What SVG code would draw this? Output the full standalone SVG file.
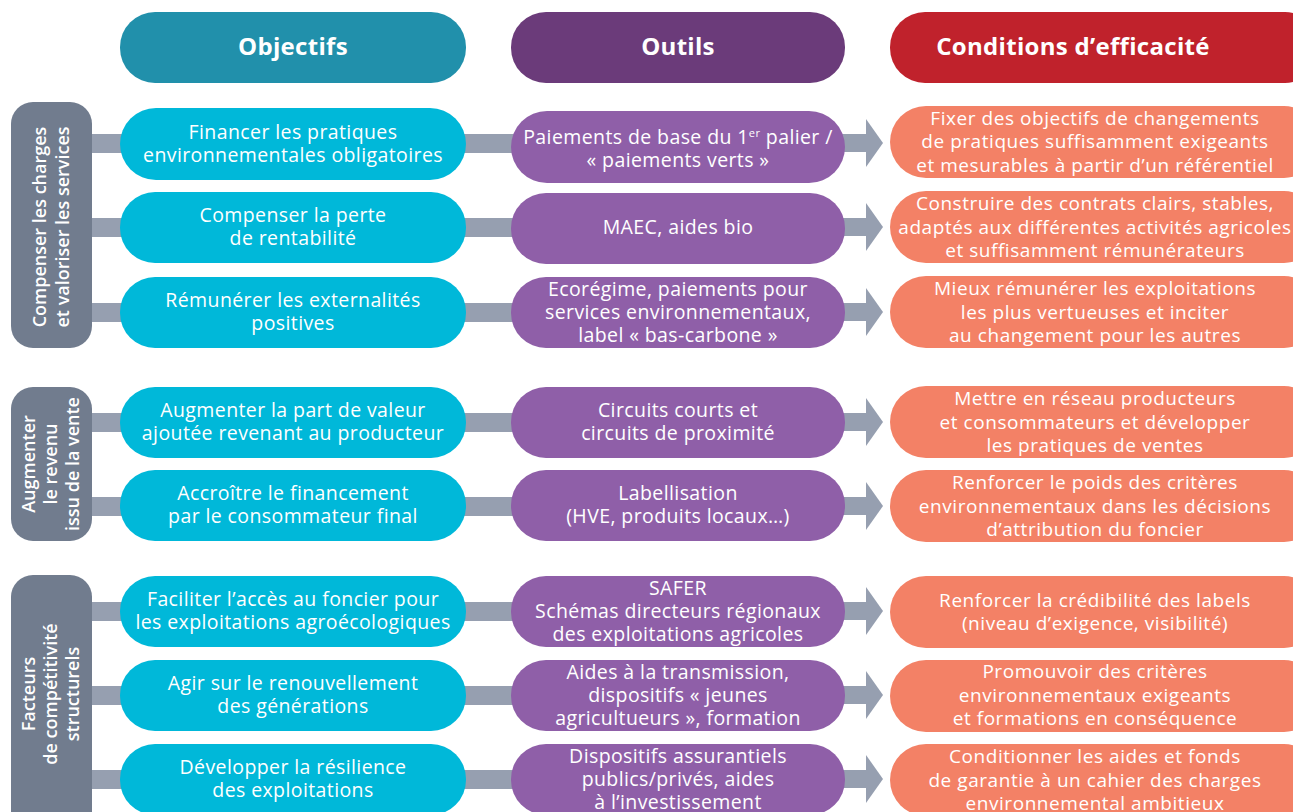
<svg xmlns="http://www.w3.org/2000/svg" width="1293" height="812" viewBox="0 0 1293 812">
<style>
text{font-family:"Open Sans","Liberation Sans",sans-serif;fill:#fff;text-anchor:middle}
.h{font-size:24px;font-weight:700;letter-spacing:0.3px}
.t{font-size:19.5px;letter-spacing:0.4px}
.c{font-size:19px;letter-spacing:0.55px}
.g{font-size:18px;font-weight:600}
.obj{fill:#00b8d9}
.out{fill:#8f5fa8}
.cond{fill:#f38166}
.grp{fill:#717c8e}
.bar{fill:#969fb0}
</style>
<defs>
<g id="arr"><rect x="840" y="-9" width="28" height="18"/><polygon points="866,-24 883,0 866,24"/></g>
</defs>
<rect width="1293" height="812" fill="#fff"/>
<g id="connectors" class="bar">
<rect x="88" y="134" width="36" height="19"/><rect x="88" y="218" width="36" height="19"/><rect x="88" y="303" width="36" height="19"/>
<rect x="88" y="413" width="36" height="19"/><rect x="88" y="497" width="36" height="19"/>
<rect x="88" y="602" width="36" height="19"/><rect x="88" y="686" width="36" height="19"/><rect x="88" y="770" width="36" height="19"/>
<rect x="460" y="134" width="56" height="19"/><rect x="460" y="218" width="56" height="19"/><rect x="460" y="303" width="56" height="19"/>
<rect x="460" y="413" width="56" height="19"/><rect x="460" y="497" width="56" height="19"/>
<rect x="460" y="602" width="56" height="19"/><rect x="460" y="686" width="56" height="19"/><rect x="460" y="770" width="56" height="19"/>
<use href="#arr" y="143"/><use href="#arr" y="227"/><use href="#arr" y="312"/>
<use href="#arr" y="422"/><use href="#arr" y="506"/>
<use href="#arr" y="611"/><use href="#arr" y="695"/><use href="#arr" y="779"/>
</g>
<g id="header-objectifs"><rect x="120" y="12" width="346" height="71" rx="35" fill="#2190ab"/><text class="h" x="293" y="55">Objectifs</text></g>
<g id="header-outils"><rect x="511" y="12" width="334" height="71" rx="35" fill="#6b3b7a"/><text class="h" x="678" y="55">Outils</text></g>
<g id="header-conditions"><rect x="890" y="12" width="430" height="71" rx="35" fill="#c0222c"/><text class="h" x="1073" y="55">Conditions d’efficacité</text></g>

<g id="group1"><rect class="grp" x="11" y="102" width="81" height="246" rx="22"/>
<text class="g" transform="translate(51,227) rotate(-90)"><tspan x="0" y="-5">Compenser les charges</tspan><tspan x="0" y="18">et valoriser les services</tspan></text></g>
<g id="group2"><rect class="grp" x="11" y="387" width="81" height="154" rx="22"/>
<text class="g" transform="translate(51,464) rotate(-90)"><tspan x="0" y="-16">Augmenter</tspan><tspan x="0" y="6">le revenu</tspan><tspan x="0" y="28">issu de la vente</tspan></text></g>
<g id="group3"><rect class="grp" x="11" y="575" width="81" height="260" rx="22"/>
<text class="g" transform="translate(51,694) rotate(-90)"><tspan x="0" y="-16">Facteurs</tspan><tspan x="0" y="6">de compétitivité</tspan><tspan x="0" y="28">structurels</tspan></text></g>

<g id="obj1"><rect class="obj" x="120" y="108" width="346" height="72" rx="36"/><text class="t"><tspan x="293" y="139">Financer les pratiques</tspan><tspan x="293" y="162">environnementales obligatoires</tspan></text></g>
<g id="obj2"><rect class="obj" x="120" y="192" width="346" height="71" rx="35"/><text class="t"><tspan x="293" y="222">Compenser la perte</tspan><tspan x="293" y="245">de rentabilité</tspan></text></g>
<g id="obj3"><rect class="obj" x="120" y="277" width="346" height="71" rx="35"/><text class="t"><tspan x="293" y="307">Rémunérer les externalités</tspan><tspan x="293" y="330">positives</tspan></text></g>
<g id="obj4"><rect class="obj" x="120" y="387" width="346" height="71" rx="35"/><text class="t"><tspan x="293" y="417">Augmenter la part de valeur</tspan><tspan x="293" y="440">ajoutée revenant au producteur</tspan></text></g>
<g id="obj5"><rect class="obj" x="120" y="470" width="346" height="71" rx="35"/><text class="t"><tspan x="293" y="500">Accroître le financement</tspan><tspan x="293" y="523">par le consommateur final</tspan></text></g>
<g id="obj6"><rect class="obj" x="120" y="576" width="346" height="71" rx="35"/><text class="t"><tspan x="293" y="606">Faciliter l’accès au foncier pour</tspan><tspan x="293" y="629">les exploitations agroécologiques</tspan></text></g>
<g id="obj7"><rect class="obj" x="120" y="660" width="346" height="71" rx="35"/><text class="t"><tspan x="293" y="690">Agir sur le renouvellement</tspan><tspan x="293" y="713">des générations</tspan></text></g>
<g id="obj8"><rect class="obj" x="120" y="744" width="346" height="71" rx="35"/><text class="t"><tspan x="293" y="774">Développer la résilience</tspan><tspan x="293" y="797">des exploitations</tspan></text></g>

<g id="out1"><rect class="out" x="511" y="111" width="334" height="72" rx="36"/><text class="t"><tspan x="678" y="144">Paiements de base du 1<tspan font-size="11" dy="-7">er</tspan><tspan dy="7"> palier /</tspan></tspan><tspan x="678" y="167">« paiements verts »</tspan></text></g>
<g id="out2"><rect class="out" x="511" y="193" width="334" height="71" rx="35"/><text class="t" x="678" y="234">MAEC, aides bio</text></g>
<g id="out3"><rect class="out" x="511" y="277" width="334" height="71" rx="35"/><text class="t"><tspan x="678" y="296">Ecorégime, paiements pour</tspan><tspan x="678" y="319">services environnementaux,</tspan><tspan x="678" y="342">label « bas-carbone »</tspan></text></g>
<g id="out4"><rect class="out" x="511" y="387" width="334" height="71" rx="35"/><text class="t"><tspan x="678" y="417">Circuits courts et</tspan><tspan x="678" y="440">circuits de proximité</tspan></text></g>
<g id="out5"><rect class="out" x="511" y="470" width="334" height="71" rx="35"/><text class="t"><tspan x="678" y="500">Labellisation</tspan><tspan x="678" y="523">(HVE, produits locaux…)</tspan></text></g>
<g id="out6"><rect class="out" x="511" y="576" width="334" height="71" rx="35"/><text class="t"><tspan x="678" y="595">SAFER</tspan><tspan x="678" y="618">Schémas directeurs régionaux</tspan><tspan x="678" y="641">des exploitations agricoles</tspan></text></g>
<g id="out7"><rect class="out" x="511" y="660" width="334" height="71" rx="35"/><text class="t"><tspan x="678" y="679">Aides à la transmission,</tspan><tspan x="678" y="702">dispositifs « jeunes</tspan><tspan x="678" y="725">agricultueurs », formation</tspan></text></g>
<g id="out8"><rect class="out" x="511" y="744" width="334" height="71" rx="35"/><text class="t"><tspan x="678" y="763">Dispositifs assurantiels</tspan><tspan x="678" y="786">publics/privés, aides</tspan><tspan x="678" y="809">à l’investissement</tspan></text></g>

<g id="cond1"><rect class="cond" x="890" y="106" width="430" height="72" rx="36"/><text class="c"><tspan x="1095" y="125">Fixer des objectifs de changements</tspan><tspan x="1095" y="148">de pratiques suffisamment exigeants</tspan><tspan x="1095" y="172">et mesurables à partir d’un référentiel</tspan></text></g>
<g id="cond2"><rect class="cond" x="890" y="191" width="430" height="72" rx="36"/><text class="c"><tspan x="1095" y="210">Construire des contrats clairs, stables,</tspan><tspan x="1095" y="234">adaptés aux différentes activités agricoles</tspan><tspan x="1095" y="257">et suffisamment rémunérateurs</tspan></text></g>
<g id="cond3"><rect class="cond" x="890" y="276" width="430" height="72" rx="36"/><text class="c"><tspan x="1095" y="295">Mieux rémunérer les exploitations</tspan><tspan x="1095" y="319">les plus vertueuses et inciter</tspan><tspan x="1095" y="342">au changement pour les autres</tspan></text></g>
<g id="cond4"><rect class="cond" x="890" y="386" width="430" height="72" rx="36"/><text class="c"><tspan x="1095" y="405">Mettre en réseau producteurs</tspan><tspan x="1095" y="429">et consommateurs et développer</tspan><tspan x="1095" y="452">les pratiques de ventes</tspan></text></g>
<g id="cond5"><rect class="cond" x="890" y="470" width="430" height="72" rx="36"/><text class="c"><tspan x="1095" y="489">Renforcer le poids des critères</tspan><tspan x="1095" y="513">environnementaux dans les décisions</tspan><tspan x="1095" y="536">d’attribution du foncier</tspan></text></g>
<g id="cond6"><rect class="cond" x="890" y="576" width="430" height="72" rx="36"/><text class="c"><tspan x="1095" y="607">Renforcer la crédibilité des labels</tspan><tspan x="1095" y="630">(niveau d’exigence, visibilité)</tspan></text></g>
<g id="cond7"><rect class="cond" x="890" y="660" width="430" height="72" rx="36"/><text class="c"><tspan x="1095" y="678">Promouvoir des critères</tspan><tspan x="1095" y="702">environnementaux exigeants</tspan><tspan x="1095" y="725">et formations en conséquence</tspan></text></g>
<g id="cond8"><rect class="cond" x="890" y="744" width="430" height="72" rx="36"/><text class="c"><tspan x="1095" y="763">Conditionner les aides et fonds</tspan><tspan x="1095" y="787">de garantie à un cahier des charges</tspan><tspan x="1095" y="810">environnemental ambitieux</tspan></text></g>
</svg>
